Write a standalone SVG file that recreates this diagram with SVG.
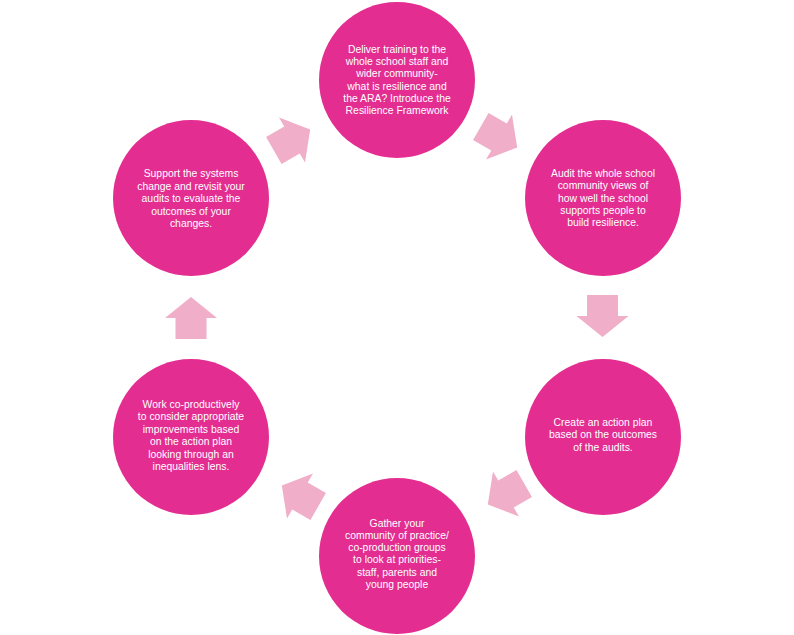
<svg xmlns="http://www.w3.org/2000/svg" width="794" height="635" viewBox="0 0 794 635">
<style>
.c{fill:#E32D91;}
.a{fill:#F0AEC8;}
.t{font-family:"Liberation Sans",Arial,sans-serif;font-size:10.4px;fill:#FFFFFF;text-anchor:middle;}
</style>
<defs>
<path id="arr" d="M-21,-15.5 L0,-15.5 L0,-26 L21,0 L0,26 L0,15.5 L-21,15.5 Z"/>
</defs>
<rect width="794" height="635" fill="#FFFFFF"/>
<g id="connectors">
<use href="#arr" class="a" transform="translate(292,140) rotate(-30)"/>
<use href="#arr" class="a" transform="translate(499,137) rotate(30)"/>
<use href="#arr" class="a" transform="translate(602.5,316) rotate(90)"/>
<use href="#arr" class="a" transform="translate(506,494) rotate(150)"/>
<use href="#arr" class="a" transform="translate(300,496) rotate(210)"/>
<use href="#arr" class="a" transform="translate(191,318) rotate(270)"/>
</g>
<g id="node1">
<circle class="c" cx="397" cy="80" r="78"/>
<text class="t" x="397" y="53">Deliver training to the</text>
<text class="t" x="397" y="65.2">whole school staff and</text>
<text class="t" x="397" y="77.4">wider community-</text>
<text class="t" x="397" y="89.6">what is resilience and</text>
<text class="t" x="397" y="101.8">the ARA? Introduce the</text>
<text class="t" x="397" y="114">Resilience Framework</text>
</g>
<g id="node2">
<circle class="c" cx="603" cy="198" r="78"/>
<text class="t" x="603" y="177">Audit the whole school</text>
<text class="t" x="603" y="189.3">community views of</text>
<text class="t" x="603" y="201.6">how well the school</text>
<text class="t" x="603" y="213.9">supports people to</text>
<text class="t" x="603" y="226.2">build resilience.</text>
</g>
<g id="node3">
<circle class="c" cx="603" cy="437" r="78"/>
<text class="t" x="603" y="426">Create an action plan</text>
<text class="t" x="603" y="438.3">based on the outcomes</text>
<text class="t" x="603" y="450.6">of the audits.</text>
</g>
<g id="node4">
<circle class="c" cx="397" cy="556" r="78"/>
<text class="t" x="397" y="526.5">Gather your</text>
<text class="t" x="397" y="538.8">community of practice/</text>
<text class="t" x="397" y="551.1">co-production groups</text>
<text class="t" x="397" y="563.4">to look at priorities-</text>
<text class="t" x="397" y="575.7">staff, parents and</text>
<text class="t" x="397" y="588">young people</text>
</g>
<g id="node5">
<circle class="c" cx="191" cy="437" r="78"/>
<text class="t" x="191" y="407.5">Work co-productively</text>
<text class="t" x="191" y="420">to consider appropriate</text>
<text class="t" x="191" y="432.5">improvements based</text>
<text class="t" x="191" y="445">on the action plan</text>
<text class="t" x="191" y="457.5">looking through an</text>
<text class="t" x="191" y="470">inequalities lens.</text>
</g>
<g id="node6">
<circle class="c" cx="191" cy="198" r="78"/>
<text class="t" x="191" y="177">Support the systems</text>
<text class="t" x="191" y="189.5">change and revisit your</text>
<text class="t" x="191" y="202">audits to evaluate the</text>
<text class="t" x="191" y="214.5">outcomes of your</text>
<text class="t" x="191" y="227">changes.</text>
</g>
</svg>
